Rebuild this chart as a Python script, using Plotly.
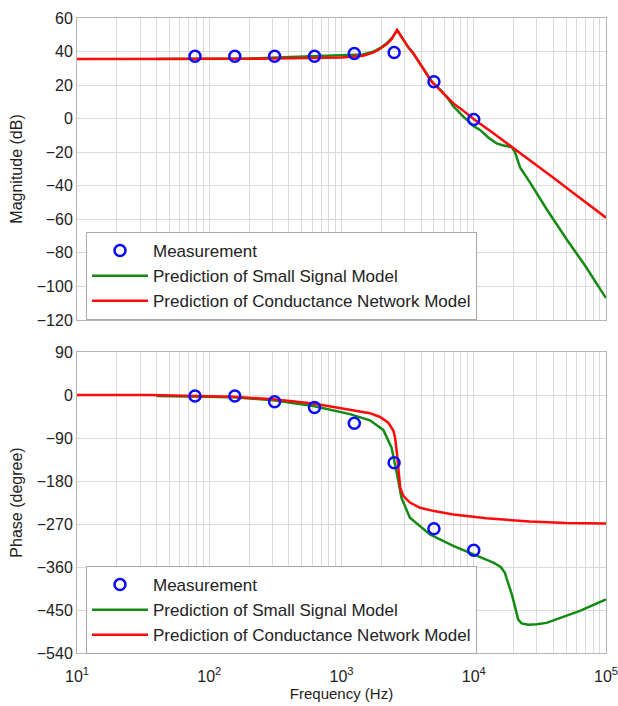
import plotly.graph_objects as go

# ---------------- data ----------------
freq_meas = [78, 156, 312, 625, 1250, 2500, 5000, 10000]
mag_meas = [37.2, 37.2, 37.2, 37.2, 38.8, 39.5, 22.0, -0.5]
phase_meas = [-2, -2, -14, -26, -59, -142, -280, -325]

# Conductance network model (red)
f_cn_mag = [10, 30, 100, 300, 600, 1000, 1460, 1750, 1950, 2200, 2400, 2550, 2630,
            2700, 2800, 2930, 3200, 3490, 4000, 4810, 6000, 7000, 8500, 10200,
            14000, 19400, 26600, 40000, 60000, 100000]
mag_cn = [35.5, 35.5, 35.6, 35.8, 36.1, 36.4, 37.5, 39.5, 41.5, 44.5, 47.5, 50.5, 52.8,
          51.5, 49.5, 46.9, 42.5, 39.0, 32.0, 22.0, 14.5, 9.2, 4.2, -0.8,
          -8.6, -16.7, -24.6, -35.2, -45.8, -59.0]

f_cn_ph = [10, 35, 152, 305, 612, 1160, 1640, 1955, 2260, 2470, 2540, 2630, 2700,
           2780, 2930, 3290, 3930, 5000, 7000, 12500, 26600, 50000, 100000]
ph_cn = [0, 0, -3.5, -9, -18, -30, -38, -46, -58, -75, -89, -124, -166,
         -194, -211, -225, -236, -243, -250, -258, -265, -268, -269]

# Small signal model (green)
f_ss_mag = [40, 100, 200, 363, 600, 910, 1450, 1750, 1950, 2200, 2400, 2550, 2630,
            2700, 2800, 2930, 3200, 3490, 4000, 4810, 5560, 6240, 7000, 8340, 10000,
            11150, 13000, 14900, 16500, 18200, 19400, 20500, 22400, 26600, 35600,
            50500, 70000, 100000]
mag_ss = [35.5, 35.6, 35.8, 36.6, 37.2, 38.0, 38.3, 40.0, 42.0, 45.0, 48.0, 51.0, 52.8,
          51.5, 49.5, 46.9, 42.5, 39.0, 32.0, 22.0, 17.5, 13.0, 7.5, 1.2, -4.5,
          -6.7, -11.5, -14.7, -15.8, -16.3, -17.0, -20.0, -29.0, -38.0, -54.0,
          -72.0, -88.0, -107.0]

f_ss_ph = [40, 152, 305, 612, 1160, 1640, 2070, 2390, 2630, 2840, 3290, 4670, 7000,
           10500, 14060, 16000, 17200, 17750, 19400, 21700, 23000, 25800, 30000,
           35500, 50000, 63500, 100000]
ph_ss = [-2, -4.5, -11, -23, -40, -53, -73, -110, -166, -215, -257, -292, -316,
         -337, -351, -360, -372, -385, -417, -470, -478, -481, -480,
         -477, -463, -452, -428]

decade_vals = [10, 100, 1000, 10000, 100000]
decade_text = ["10<sup>1</sup>", "10<sup>2</sup>", "10<sup>3</sup>", "10<sup>4</sup>", "10<sup>5</sup>"]
minor_vals = [m * d for d in [10, 100, 1000, 10000] for m in range(2, 10)]

mag_ticks = [-120, -100, -80, -60, -40, -20, 0, 20, 40, 60]
phase_ticks = [-540, -450, -360, -270, -180, -90, 0, 90]

GREEN = "#138a13"
RED = "#ff0a0a"
BLUE = "#0a0aff"
GRID = "#dadada"
FRAME = "#b4b4b4"
FONT = "Liberation Sans, Arial, sans-serif"

fig = go.Figure()

# ---- magnitude panel ----
fig.add_trace(go.Scatter(x=f_ss_mag, y=mag_ss, mode="lines", name="Prediction of Small Signal Model",
                         line=dict(color=GREEN, width=2.5), xaxis="x", yaxis="y",
                         legend="legend", legendrank=2))
fig.add_trace(go.Scatter(x=f_cn_mag, y=mag_cn, mode="lines", name="Prediction of Conductance Network Model",
                         line=dict(color=RED, width=2.5), xaxis="x", yaxis="y",
                         legend="legend", legendrank=3))
fig.add_trace(go.Scatter(x=freq_meas, y=mag_meas, mode="markers", name="Measurement",
                         marker=dict(symbol="circle-open", size=11, color=BLUE, line=dict(width=2.5, color=BLUE)),
                         xaxis="x", yaxis="y", legend="legend", legendrank=1))

# ---- phase panel ----
fig.add_trace(go.Scatter(x=f_ss_ph, y=ph_ss, mode="lines", name="Prediction of Small Signal Model",
                         line=dict(color=GREEN, width=2.5), xaxis="x2", yaxis="y2",
                         legend="legend2", legendrank=2))
fig.add_trace(go.Scatter(x=f_cn_ph, y=ph_cn, mode="lines", name="Prediction of Conductance Network Model",
                         line=dict(color=RED, width=2.5), xaxis="x2", yaxis="y2",
                         legend="legend2", legendrank=3))
fig.add_trace(go.Scatter(x=freq_meas, y=phase_meas, mode="markers", name="Measurement",
                         marker=dict(symbol="circle-open", size=11, color=BLUE, line=dict(width=2.5, color=BLUE)),
                         xaxis="x2", yaxis="y2", legend="legend2", legendrank=1))

xcommon = dict(type="log", range=[1, 5], tickmode="array", tickvals=decade_vals, ticktext=decade_text,
               showgrid=True, gridcolor=GRID, gridwidth=1, showline=True, linecolor=FRAME, linewidth=1,
               mirror=True, ticks="", zeroline=False, automargin=False, ticklabeloverflow="allow",
               ticklabelstandoff=9,
               minor=dict(tickmode="array", tickvals=minor_vals, showgrid=True, gridcolor=GRID, gridwidth=1, ticks=""),
               tickfont=dict(size=16, color="#222", family=FONT))
ycommon = dict(showgrid=True, gridcolor=GRID, gridwidth=1, showline=True, linecolor=FRAME, linewidth=1,
               mirror=True, ticks="", zeroline=False, automargin=False,
               tickfont=dict(size=16, color="#222", family=FONT))

legend_common = dict(bgcolor="white", bordercolor="#a8a8a8", borderwidth=1,
                     font=dict(size=17, color="#222", family=FONT), itemwidth=56,
                     xanchor="left", yanchor="top", traceorder="normal")

fig.update_layout(
    width=618, height=706,
    margin=dict(l=77, r=12, t=18, b=53, autoexpand=False),
    paper_bgcolor="white", plot_bgcolor="white",
    font=dict(family=FONT, size=16, color="#222"),
    xaxis=dict(xcommon, anchor="y", showticklabels=False),
    xaxis2=dict(xcommon, anchor="y2", matches="x",
                title=dict(text="Frequency (Hz)", font=dict(size=15, family=FONT, color="#222"), standoff=2)),
    yaxis=dict(ycommon, domain=[0.5244, 1.0], range=[-120, 60], tickmode="array", tickvals=mag_ticks,
               title=dict(text="Magnitude (dB)", font=dict(size=16, family=FONT, color="#222"), standoff=10)),
    yaxis2=dict(ycommon, domain=[0.0, 0.474], range=[-540, 90], tickmode="array", tickvals=phase_ticks,
                title=dict(text="Phase (degree)", font=dict(size=16, family=FONT, color="#222"), standoff=10)),
    legend=dict(legend_common, x=0.017, y=0.663),
    legend2=dict(legend_common, x=0.017, y=0.137),
    showlegend=True,
)

fig.write_html("out.html")
